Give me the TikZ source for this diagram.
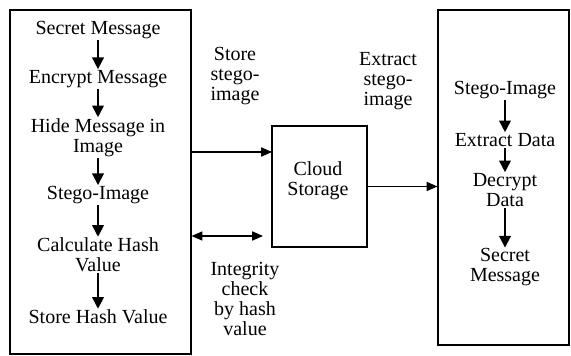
\documentclass[tikz,border=0pt]{standalone}
\usepackage{fontspec}
\setmainfont{Liberation Serif}
\newfontfamily\tmsfont{Liberation Serif}
\usetikzlibrary{arrows.meta}

\begin{document}
\begin{tikzpicture}[x=0.6pt, y=-0.6pt]
		\tikzset{txt/.style={align=center, inner sep=0.5pt, font=\tmsfont\fontsize{12}{12}\selectfont}};
		\tikzset{box/.style={draw=black, line width=0.7pt, inner sep=0pt}};
		\tikzset{dn/.style={-{Triangle[length=7pt, width=7pt]}, line width=1.1pt}};
		\tikzset{hz/.style={-{Triangle[length=6.5pt, width=5.5pt]}, line width=0.7pt}};

		\useasboundingbox (0, 0) rectangle (571, 356);

		\node[box, minimum width=108.6pt, minimum height=206.4pt] (lbox) at (100.5, 182) {};
		\node[box, minimum width=57pt, minimum height=72.6pt] (cloud) at (319.5, 186.5) {};
		\node[box, minimum width=78.6pt, minimum height=201pt] (rbox) at (503.5, 177.5) {};

		\node[txt] (cloudtxt) at (318, 181) {Cloud\\Storage};

		\node[txt] (secret) at (98, 30) {Secret Message};
		\node[txt] (encrypt) at (98, 79) {Encrypt Message};
		\node[txt] (hide) at (98, 137.5) {Hide Message in\\Image};
		\node[txt] (stego) at (98, 195) {Stego-Image};
		\node[txt] (hash) at (98, 255) {Calculate Hash\\Value};
		\node[txt] (storehash) at (98, 317) {Store Hash Value};

		\node[txt] (rstego) at (505, 90) {Stego-Image};
		\node[txt] (extract) at (505, 140) {Extract Data};
		\node[txt] (decrypt) at (505, 190) {Decrypt\\Data};
		\node[txt] (rsecret) at (505, 267.5) {Secret\\Message};

		\node[txt] (lstore) at (235, 76) {Store\\stego-\\image};
		\node[txt] (lextract) at (388, 81) {Extract\\stego-\\image};
		\node[txt] (lcheck) at (245, 299) {Integrity\\check\\by hash\\value};

		\coordinate (in) at (272, 152);
		\coordinate (chk) at (263, 236);

		\draw[dn] (secret) to (encrypt);
		\draw[dn] (encrypt) to (hide);
		\draw[dn] (hide) to (stego);
		\draw[dn] (stego) to (hash);
		\draw[dn] (hash) to (storehash);

		\draw[dn] (rstego) to (extract);
		\draw[dn] (extract) to (decrypt);
		\draw[dn] (decrypt) to (rsecret);

		\draw[hz] (lbox.east |- in) to (in);
		\draw[hz, {Triangle[length=6.5pt, width=5.5pt]}-{Triangle[length=6.5pt, width=5.5pt]}] (lbox.east |- chk) to (chk);
		\draw[hz] (cloud.east) to (rbox.west |- cloud.east);
	\end{tikzpicture}
\end{document}
